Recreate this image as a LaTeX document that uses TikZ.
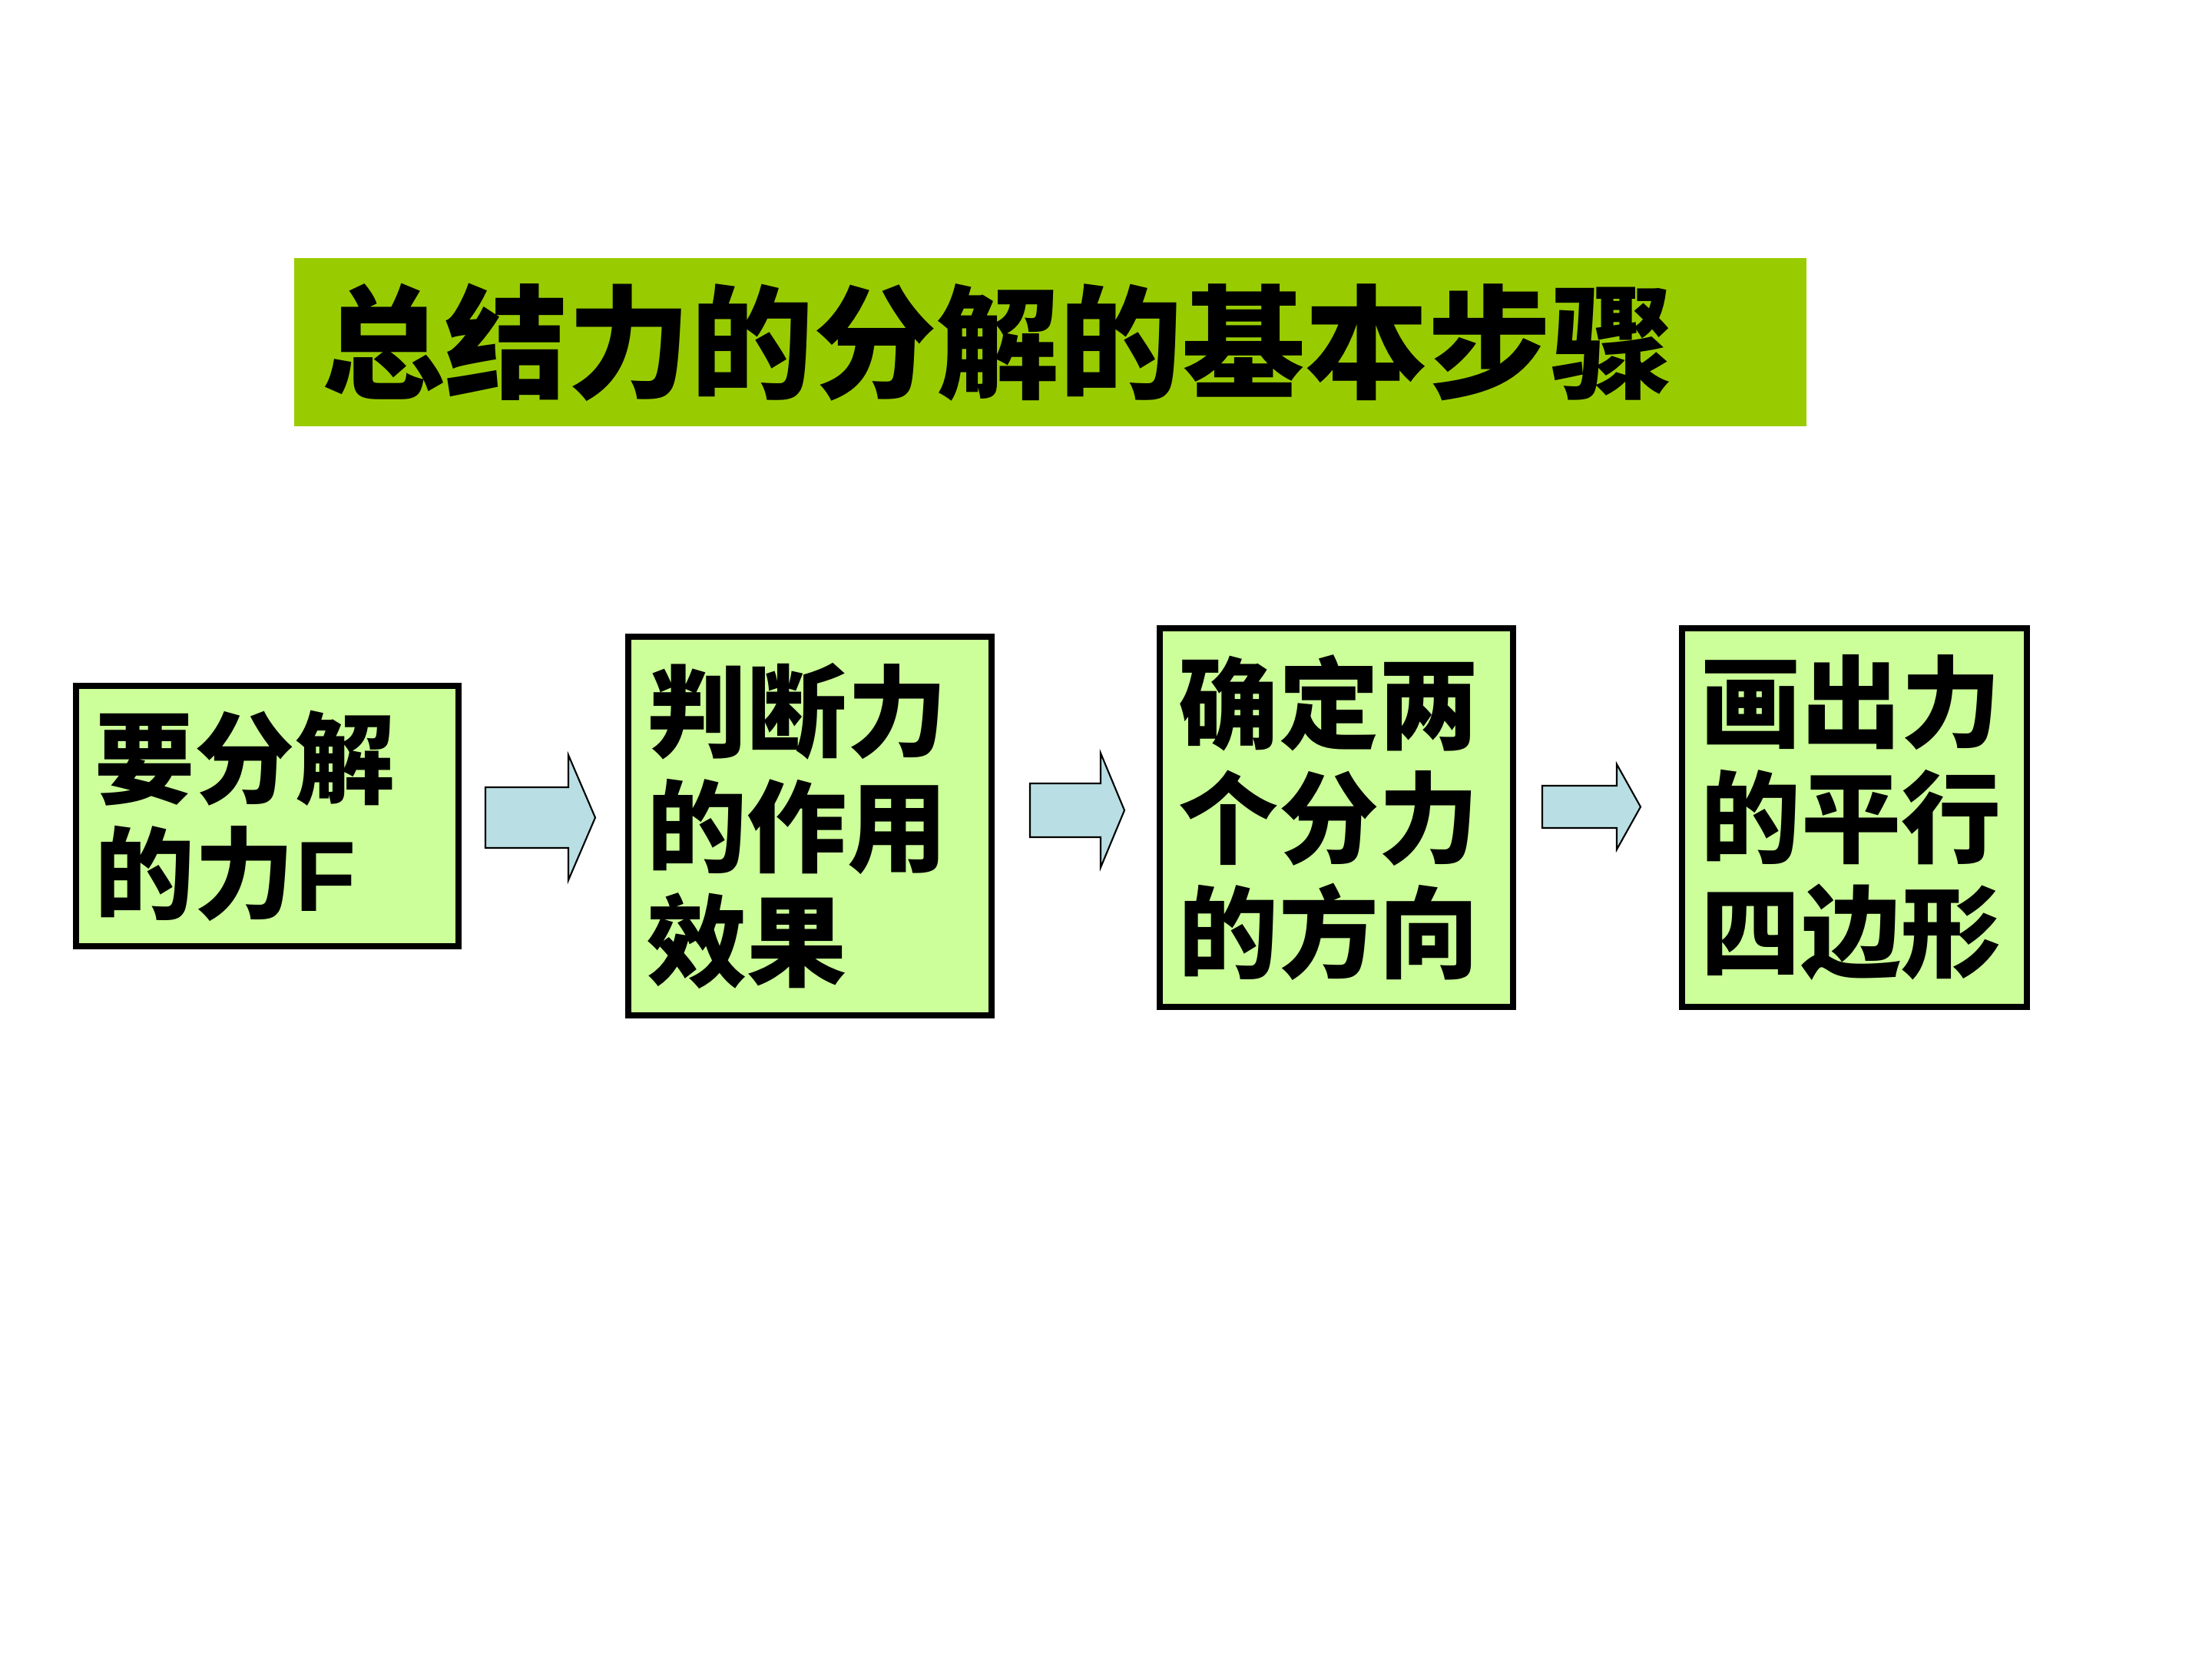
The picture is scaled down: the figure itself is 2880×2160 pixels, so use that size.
\documentclass[tikz,border=0pt]{standalone}
\usepackage{fontspec}
\setmainfont{Liberation Sans}
\newfontfamily\cjk{Noto Sans CJK SC}
\newfontfamily\latfett{Liberation Sans Bold}
\usetikzlibrary{calc}
\definecolor{balken}{RGB}{153,204,0}
\definecolor{kasten}{RGB}{204,255,153}
\definecolor{pfeil}{RGB}{185,223,228}

\tikzset{
	schritt/.style={draw=black, line width=2.4pt, fill=kasten, inner xsep=0.25cm, inner ysep=0pt, align=left, font=\fontsize{37}{42.5}\selectfont\bfseries\cjk},
	pfeilform/.style={draw=black, line width=0.6pt, fill=pfeil}
}

\begin{document}
\begin{tikzpicture}[x=0.01cm, y=-0.01cm]

	\useasboundingbox (0,0) rectangle (2880,2160);
	\fill[white] (0,0) rectangle (2880,2160);

	% Titel
	\node[fill=balken, minimum width=19.67cm, minimum height=2.19cm, inner xsep=0.36cm, inner ysep=0pt, text width=18.95cm, align=left, font=\fontsize{45.5}{52}\selectfont\bfseries\cjk] (titel) at (1367.5,445.5) {\raisebox{-0.08cm}{总结力的分解的基本步骤}};

	% Schritte
	\node[schritt, text width=4.48cm, minimum height=3.39cm] (s1) at (348,1062.5) {要分解\\的力{\latfett F}};
	\node[schritt, text width=4.23cm, minimum height=4.93cm] (s2) at (1054.5,1075.5) {判断力\\的作用\\效果};
	\node[schritt, text width=4.10cm, minimum height=4.93cm] (s3) at (1740,1064.5) {确定两\\个分力\\的方向};
	\node[schritt, text width=3.99cm, minimum height=4.93cm] (s4) at (2414.5,1064.5) {画出力\\的平行\\四边形};

	% Pfeile
	\foreach \xa/\xe/\xk/\ym/\hs/\hk in {632/775/740/1064.5/39.5/81.5, 1341/1464/1433/1055/35/74.5, 2008/2136/2105/1050.5/27.5/55.5}
		\draw[pfeilform] (\xa,{\ym-\hs}) -- (\xk,{\ym-\hs}) -- (\xk,{\ym-\hk}) -- (\xe,\ym) -- (\xk,{\ym+\hk}) -- (\xk,{\ym+\hs}) -- (\xa,{\ym+\hs}) -- cycle;

\end{tikzpicture}
\end{document}
